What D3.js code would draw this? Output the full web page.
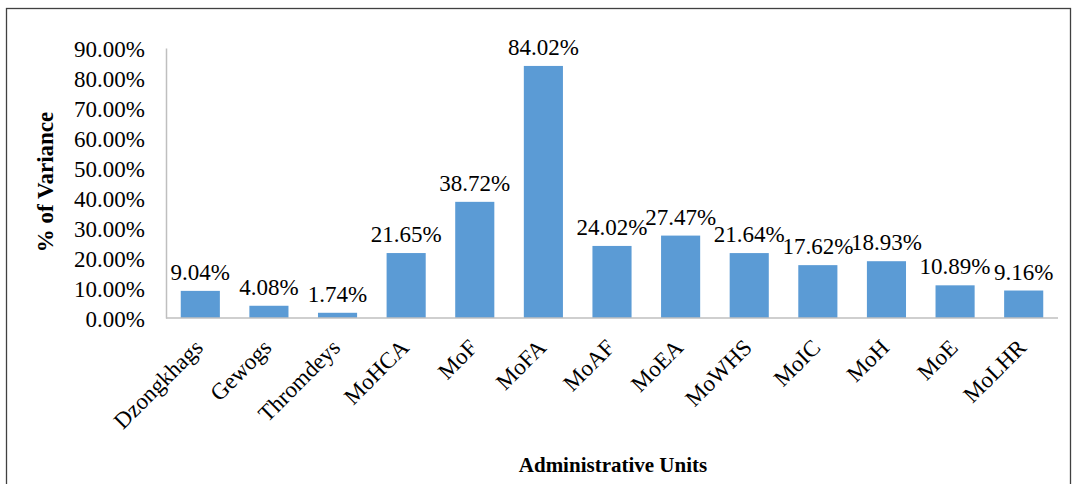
<!DOCTYPE html>
<html>
<head>
<meta charset="utf-8">
<script src="https://cdn.jsdelivr.net/npm/d3@7"></script>
<style>
  body { margin: 0; background: #fff; }
  svg text { font-family: "Liberation Serif", "Times New Roman", serif !important; fill: #000; }
</style>
</head>
<body>
<script>
const units = ["Dzongkhags", "Gewogs", "Thromdeys", "MoHCA", "MoF", "MoFA", "MoAF",
  "MoEA", "MoWHS", "MoIC", "MoH", "MoE", "MoLHR"];
const variance = [9.04, 4.08, 1.74, 21.65, 38.72, 84.02, 24.02, 27.47, 21.64, 17.62, 18.93, 10.89, 9.16];
const yTicks = [0, 10, 20, 30, 40, 50, 60, 70, 80, 90];

const svgWidth = 1072;
const svgHeight = 484;
const plotLeft = 166, plotRight = 1058, plotTop = 48, plotBottom = 318;
const serif = "'Liberation Serif', 'Times New Roman', serif";

const svg = d3.select("body").append("svg")
  .attr("width", svgWidth)
  .attr("height", svgHeight);

// outer frame
svg.append("rect")
  .attr("x", 6.5).attr("y", 8.5)
  .attr("width", 1064).attr("height", 490)
  .attr("fill", "none")
  .attr("stroke", "#404040")
  .attr("stroke-width", 1.3);

const xScale = d3.scaleBand()
  .domain(units)
  .range([plotLeft, plotRight])
  .paddingInner(0.43)
  .paddingOuter(0.215);

const yScale = d3.scaleLinear()
  .domain([0, 90])
  .range([plotBottom, plotTop]);

// bars
svg.selectAll("rect.bar")
  .data(units)
  .enter().append("rect")
  .attr("class", "bar")
  .attr("x", d => xScale(d))
  .attr("y", (d, i) => yScale(variance[i]))
  .attr("width", xScale.bandwidth())
  .attr("height", (d, i) => plotBottom - yScale(variance[i]))
  .attr("fill", "#5b9bd5");

// y axis
const yAxis = d3.axisLeft(yScale)
  .tickValues(yTicks)
  .tickSize(0)
  .tickPadding(21)
  .tickFormat(d => d.toFixed(2) + "%");

const gy = svg.append("g")
  .attr("transform", "translate(" + plotLeft + ",0)")
  .attr("font-family", serif)
  .call(yAxis);
gy.select(".domain").attr("stroke", "#bfbfbf").attr("stroke-width", 1.5);
gy.selectAll("text")
  .style("font-family", serif)
  .style("font-size", "23px")
  .attr("dy", "0.36em");

// x axis
const xAxis = d3.axisBottom(xScale).tickSize(0).tickFormat(d => d);
const gx = svg.append("g")
  .attr("transform", "translate(0," + plotBottom + ")")
  .attr("font-family", serif)
  .call(xAxis);
gx.select(".domain").attr("stroke", "#bfbfbf").attr("stroke-width", 1.5)
  .attr("d", "M" + plotLeft + ",0H" + plotRight);
gx.selectAll("text")
  .style("font-family", serif)
  .style("font-size", "23px")
  .attr("text-anchor", "end")
  .attr("x", 0).attr("y", 0).attr("dy", 0)
  .attr("transform", "translate(4,31) rotate(-45)");

// data labels
svg.selectAll("text.lbl")
  .data(units)
  .enter().append("text")
  .attr("class", "lbl")
  .attr("x", d => xScale(d) + xScale.bandwidth() / 2)
  .attr("y", (d, i) => yScale(variance[i]) - 11)
  .attr("text-anchor", "middle")
  .style("font-family", serif)
  .style("font-size", "23px")
  .text((d, i) => variance[i].toFixed(2) + "%");

// axis titles
svg.append("text")
  .attr("transform", "translate(53,182) rotate(-90)")
  .attr("text-anchor", "middle")
  .style("font-family", serif)
  .style("font-size", "23px")
  .style("font-weight", "bold")
  .text("% of Variance");

svg.append("text")
  .attr("x", 613).attr("y", 472)
  .attr("text-anchor", "middle")
  .style("font-family", serif)
  .style("font-size", "21px")
  .style("font-weight", "bold")
  .text("Administrative Units");
</script>
</body>
</html>
